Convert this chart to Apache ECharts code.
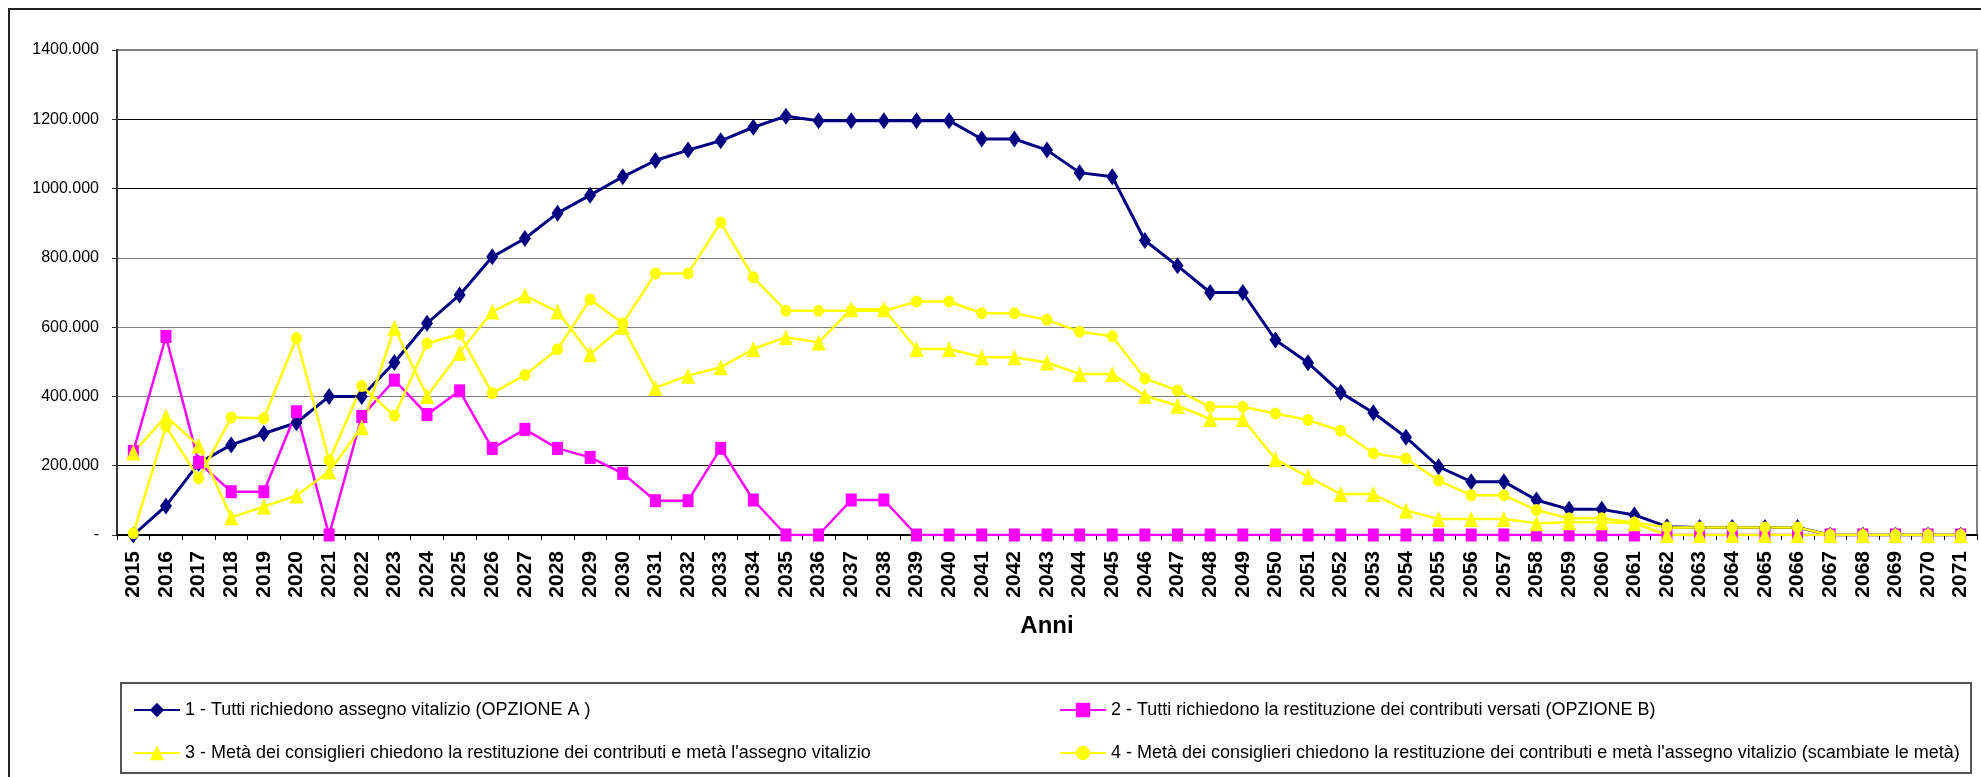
<!DOCTYPE html>
<html>
<head>
<meta charset="utf-8">
<script src="https://cdn.jsdelivr.net/npm/echarts@6/dist/echarts.min.js"></script>
<style>
  html, body { margin: 0; padding: 0; background: #fff; }
  #chart { width: 1981px; height: 777px; }
</style>
</head>
<body>
<div id="chart"></div>
<script>
// anni
const years = [
  '2015','2016','2017','2018','2019','2020','2021','2022','2023','2024',
  '2025','2026','2027','2028','2029','2030','2031','2032','2033','2034',
  '2035','2036','2037','2038','2039','2040','2041','2042','2043','2044',
  '2045','2046','2047','2048','2049','2050','2051','2052','2053','2054',
  '2055','2056','2057','2058','2059','2060','2061','2062','2063','2064',
  '2065','2066','2067','2068','2069','2070','2071'
];

// etichette asse Y (0, 200, ... 1400)
const yTickLabels = ['-', '200.000', '400.000', '600.000', '800.000', '1000.000', '1200.000', '1400.000'];

const seriesNames = [
  '1 - Tutti richiedono assegno vitalizio (OPZIONE A )',
  '2 - Tutti richiedono la restituzione dei contributi versati (OPZIONE B)',
  "3 - Metà dei consiglieri chiedono la restituzione dei contributi e metà l'assegno vitalizio",
  "4 - Metà dei consiglieri chiedono la restituzione dei contributi e metà l'assegno vitalizio (scambiate le metà)"
];

// opzione A
const optA = [
  0, 84, 207, 260, 293, 324, 400, 400, 498, 611,
  693, 803, 856, 929, 981, 1034, 1081, 1111, 1138, 1177,
  1209, 1196, 1196, 1196, 1196, 1196, 1143, 1143, 1111, 1046,
  1034, 850, 777, 700, 700, 563, 497, 411, 353, 282,
  197, 154, 154, 101, 74, 74, 58, 24, 22, 22,
  22, 22, 0, 0, 0, 0, 0
];

// opzione B
const optB = [
  241, 573, 210, 125, 125, 356, 0, 342, 447, 348,
  416, 250, 305, 250, 224, 178, 99, 99, 250, 101,
  0, 0, 101, 101, 0, 0, 0, 0, 0, 0,
  0, 0, 0, 0, 0, 0, 0, 0, 0, 0,
  0, 0, 0, 0, 0, 0, 0, 0, 0, 0,
  0, 0, 0, 0, 0, 0, 0
];

// metà e metà
const half = [
  238, 342, 258, 51, 82, 114, 183, 311, 598, 401,
  526, 645, 691, 645, 522, 601, 425, 460, 484, 537,
  571, 556, 652, 652, 537, 537, 513, 513, 498, 465,
  465, 402, 373, 335, 335, 219, 168, 118, 118, 71,
  46, 46, 46, 34, 37, 37, 34, 0, 0, 0,
  0, 0, 0, 0, 0, 0, 0
];

// metà e metà (scambiate)
const halfSwap = [
  5, 313, 164, 339, 337, 568, 215, 430, 344, 553,
  580, 409, 462, 536, 680, 611, 755, 755, 902, 744,
  647, 647, 647, 647, 674, 674, 640, 640, 621, 587,
  574, 452, 417, 370, 370, 351, 332, 301, 236, 221,
  157, 115, 115, 72, 48, 48, 36, 22, 22, 22,
  22, 22, 0, 0, 0, 0, 0
];

const FONT = '"Liberation Sans", Arial, sans-serif';

const chart = echarts.init(document.getElementById('chart'), null, { renderer: 'canvas' });

function lineSeries(name, data, color, symbol, size, width) {
  return {
    name: name,
    type: 'line',
    data: data,
    symbol: symbol,
    symbolSize: size,
    showAllSymbol: true,
    lineStyle: { color: color, width: width },
    itemStyle: { color: color, borderWidth: 0 },
    emphasis: { disabled: true }
  };
}

function legendAt(name, left, top) {
  return {
    data: [name],
    left: left,
    top: top,
    itemWidth: 46,
    itemHeight: 18,
    itemGap: 0,
    selectedMode: false,
    textStyle: { fontFamily: FONT, fontSize: 18, color: '#000' }
  };
}

const option = {
  backgroundColor: '#fff',
  animation: false,
  grid: {
    left: 117, right: 4, top: 50, bottom: 242,
    show: true, borderColor: '#808080', borderWidth: 2
  },
  graphic: [
    // cornice esterna
    { type: 'rect', shape: { x: 9, y: 9, width: 2000, height: 800 },
      style: { fill: null, stroke: '#222', lineWidth: 2 }, silent: true },
    // riquadro legenda
    { type: 'rect', shape: { x: 121, y: 683, width: 1850, height: 90 },
      style: { fill: null, stroke: '#555', lineWidth: 2 }, silent: true }
  ],
  legend: [
    legendAt(seriesNames[0], 128, 696),
    legendAt(seriesNames[1], 1054, 696),
    legendAt(seriesNames[2], 128, 739),
    legendAt(seriesNames[3], 1054, 739)
  ],
  tooltip: { show: false },
  xAxis: {
    type: 'category',
    data: years,
    boundaryGap: true,
    name: 'Anni',
    nameLocation: 'middle',
    nameGap: 79,
    nameTextStyle: { fontFamily: FONT, fontSize: 24, fontWeight: 'bold', color: '#000' },
    axisLine: { lineStyle: { color: '#000', width: 2 } },
    axisTick: { show: true, length: 5, interval: 0, lineStyle: { color: '#000' } },
    axisLabel: {
      interval: 0, rotate: 90, margin: 16,
      fontFamily: FONT, fontSize: 21, fontWeight: 'bold', color: '#000'
    },
    splitLine: { show: false }
  },
  yAxis: {
    type: 'value',
    min: 0, max: 1400, interval: 200,
    axisLine: { show: true, lineStyle: { color: '#333', width: 2 } },
    axisTick: { show: true, length: 5, lineStyle: { color: '#333' } },
    axisLabel: {
      margin: 18,
      fontFamily: FONT, fontSize: 16, color: '#000',
      formatter: (v) => yTickLabels[Math.round(v / 200)]
    },
    splitLine: {
      show: true,
      lineStyle: { color: ['#000', '#000', '#808080', '#808080', '#808080', '#000', '#000', '#808080'], width: 1 }
    }
  },
  series: [
    lineSeries(seriesNames[0], optA, '#000080', 'diamond', [12, 17], 3),
    lineSeries(seriesNames[1], optB, '#FF00FF', 'rect', [11, 13], 2.5),
    lineSeries(seriesNames[2], half, '#FFFF00', 'triangle', [14, 16], 2.5),
    lineSeries(seriesNames[3], halfSwap, '#FFFF00', 'circle', [11, 12], 2.5)
  ]
};

chart.setOption(option);
</script>
</body>
</html>
